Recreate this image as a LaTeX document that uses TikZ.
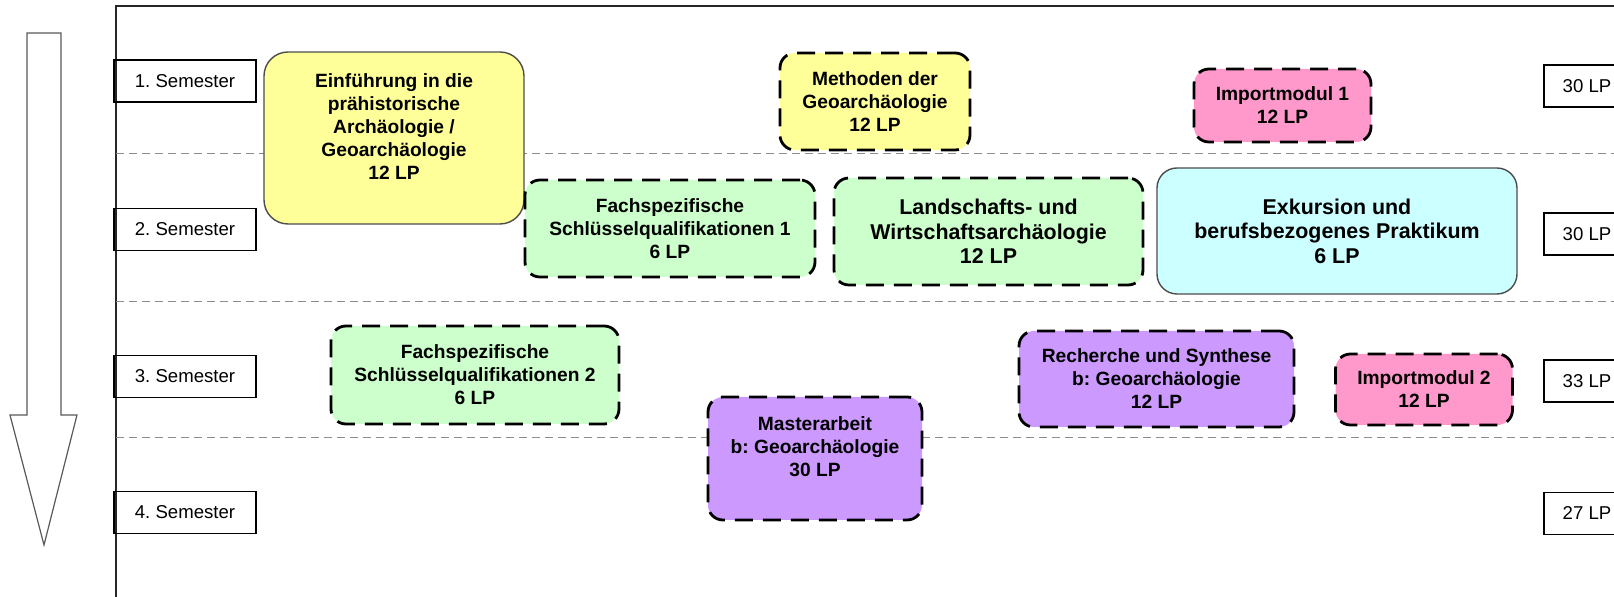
\documentclass[tikz,border=0pt]{standalone}
\usepackage{fontspec}
\setmainfont{Liberation Sans}
\usepackage{xcolor}
\definecolor{modyellow}{HTML}{FFFF99}
\definecolor{modgreen}{HTML}{CCFFCC}
\definecolor{modcyan}{HTML}{CCFFFF}
\definecolor{modpink}{HTML}{FF99CC}
\definecolor{modlilac}{HTML}{CC99FF}
\frenchspacing

\begin{document}
\begin{tikzpicture}[x=0.5pt,y=-0.5pt,
    sembox/.style={draw,line width=0.7pt,inner sep=0pt,minimum width=71pt,minimum height=21pt,font=\fontsize{9.3}{11}\selectfont},
    lpbox/.style={sembox,minimum width=43pt},
    sepline/.style={draw=black!45,line width=0.5pt,dash pattern=on 4pt off 2.5pt},
    modsolid/.style={draw=black!70,line width=0.7pt,rounded corners=11pt,inner sep=0pt,align=center,font=\bfseries\fontsize{9.6}{11.5}\selectfont},
    moddash/.style={modsolid,draw=black,line width=1.4pt,dash pattern=on 9pt off 5pt,rounded corners=7.5pt},
    bigtext/.style={font=\bfseries\fontsize{10.7}{12.3}\selectfont}]
    \useasboundingbox (0,0) rectangle (1614,597);
    \clip (0,0) rectangle (1614,597);
    \draw[black!85,line width=0.8pt] (116,650) |- (1700,6);
    \foreach \yy in {154,302,438}
        \draw[sepline] (116,\yy) -- (1620,\yy);
    \draw[black!65,fill=white,line width=0.6pt] (27,33) -- (61,33) -- (61,415) -- (77,415) -- (44,545) -- (10,415) -- (27,415) -- cycle;
    \foreach \n/\yy in {1/81,2/229.5,3/376.5,4/512.5}
        \node[sembox] (sem\n) at (185,\yy) {\n. Semester};
    \foreach \n/\yy/\lp in {1/86/30,2/234/30,3/381/33,4/513.5/27}
        \node[lpbox] (lp\n) at (1587,\yy) {\lp\ LP};
    \node[modsolid,fill=modyellow,rounded corners=12pt,minimum width=130pt,minimum height=86pt,text depth=11pt] (einf) at (394,138)
        {Einführung in die\\prähistorische\\Archäologie /\\Geoarchäologie\\12 LP};
    \node[moddash,fill=modyellow,minimum width=95pt,minimum height=48.5pt] (meth) at (875,101.5)
        {Methoden der\\Geoarchäologie\\12 LP};
    \node[moddash,fill=modpink,minimum width=88.5pt,minimum height=36.5pt] (imp1) at (1282.5,105.5)
        {Importmodul 1\\12 LP};
    \node[moddash,fill=modgreen,minimum width=145pt,minimum height=48.5pt] (fach1) at (670,228.5)
        {Fachspezifische\\Schlüsselqualifikationen 1\\6 LP};
    \node[moddash,bigtext,fill=modgreen,minimum width=154.5pt,minimum height=53.5pt] (land) at (988.5,231.5)
        {Landschafts- und\\Wirtschaftsarchäologie\\12 LP};
    \node[modsolid,bigtext,fill=modcyan,rounded corners=10pt,minimum width=180pt,minimum height=63pt] (exk) at (1337,231)
        {Exkursion und\\berufsbezogenes Praktikum\\6 LP};
    \node[moddash,fill=modgreen,minimum width=144pt,minimum height=49pt] (fach2) at (475,375)
        {Fachspezifische\\Schlüsselqualifikationen 2\\6 LP};
    \node[moddash,fill=modlilac,minimum width=107pt,minimum height=61.5pt,text depth=11.5pt] (mast) at (815,458.5)
        {Masterarbeit\\b: Geoarchäologie\\30 LP};
    \node[moddash,fill=modlilac,minimum width=137.5pt,minimum height=48pt] (rech) at (1156.5,379)
        {Recherche und Synthese\\b: Geoarchäologie\\12 LP};
    \node[moddash,fill=modpink,minimum width=88.5pt,minimum height=35.5pt] (imp2) at (1424,389.5)
        {Importmodul 2\\12 LP};
\end{tikzpicture}
\end{document}
